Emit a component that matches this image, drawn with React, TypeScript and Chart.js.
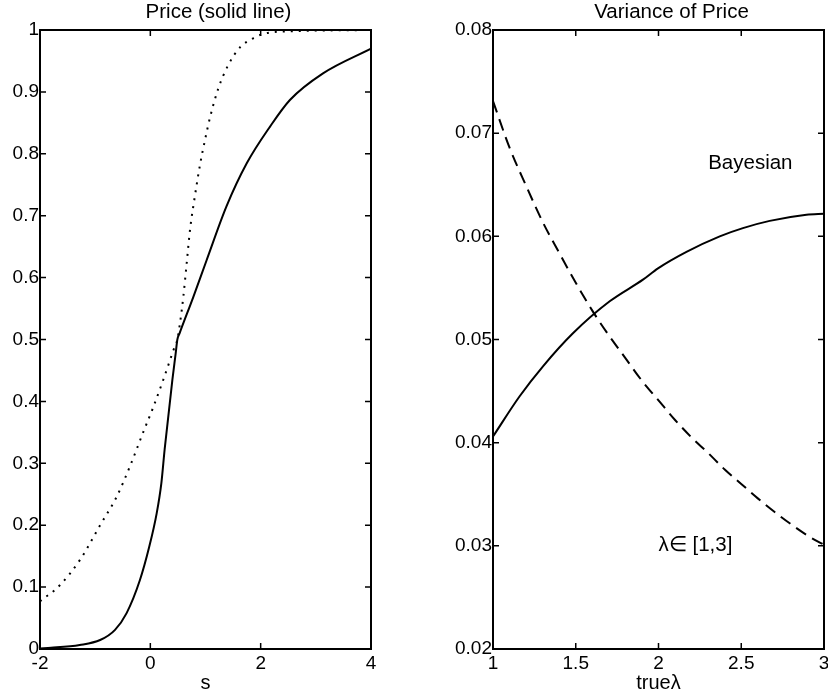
import React, { useEffect, useRef } from "react";
import { Chart, registerables } from "chart.js";

Chart.register(...registerables);

const FONT = '"Liberation Sans", Arial, Helvetica, sans-serif';
Chart.defaults.font.family = FONT;
Chart.defaults.color = "#000";

// ---------- Left panel: Price ----------
const priceTitle = "Price (solid line)";
const priceXLabel = "s";
const priceXTicks = [-2, 0, 2, 4];
const priceXTickLabels = ["-2", "0", "2", "4"];
const priceYTicks = [0, 0.1, 0.2, 0.3, 0.4, 0.5, 0.6, 0.7, 0.8, 0.9, 1];
const priceYTickLabels = ["0", "0.1", "0.2", "0.3", "0.4", "0.5", "0.6", "0.7", "0.8", "0.9", "1"];

const priceSolidS = [-2, -1.8, -1.28, -0.91, -0.64, -0.43, -0.19, -0.02, 0.115, 0.2, 0.26, 0.4, 0.46, 0.49, 0.53, 0.78, 1.02, 1.38, 1.75, 2.17, 2.53, 3.13, 4];
const priceSolidV = [0.001, 0.002, 0.0065, 0.0145, 0.031, 0.058, 0.111, 0.165, 0.219, 0.268, 0.323, 0.435, 0.478, 0.5, 0.51, 0.569, 0.628, 0.715, 0.785, 0.844, 0.887, 0.93, 0.97];

const priceDottedS = [-2, -1.64, -1.275, -0.91, -0.61, -0.37, -0.13, 0.05, 0.235, 0.42, 0.49, 0.537, 0.598, 0.659, 0.719, 0.81, 0.9, 0.99, 1.08, 1.23, 1.41, 1.625, 1.87, 2.02, 2.17, 2.6, 3, 4];
const priceDottedV = [0.077, 0.103, 0.144, 0.2, 0.246, 0.295, 0.35, 0.39, 0.435, 0.483, 0.5, 0.526, 0.569, 0.623, 0.677, 0.733, 0.782, 0.822, 0.858, 0.905, 0.943, 0.972, 0.987, 0.993, 0.996, 0.998, 0.999, 1.0];

// ---------- Right panel: Variance of Price ----------
const varTitle = "Variance of Price";
const varXLabel = "trueλ";
const varXTicks = [1, 1.5, 2, 2.5, 3];
const varXTickLabels = ["1", "1.5", "2", "2.5", "3"];
const varYTicks = [0.02, 0.03, 0.04, 0.05, 0.06, 0.07, 0.08];
const varYTickLabels = ["0.02", "0.03", "0.04", "0.05", "0.06", "0.07", "0.08"];

const bayesLambda = [1, 1.161, 1.302, 1.483, 1.705, 1.906, 1.997, 2.169, 2.37, 2.51, 2.672, 2.894, 3.0];
const bayesVar = [0.0406, 0.0445, 0.0474, 0.0506, 0.0537, 0.0558, 0.0569, 0.0585, 0.06, 0.0608, 0.0615, 0.0621, 0.0622];

const dashedLambda = [1, 1.1, 1.2, 1.3, 1.4, 1.5, 1.6, 1.7, 1.8, 1.9, 2.0, 2.1, 2.2, 2.3, 2.4, 2.5, 2.6, 2.7, 2.8, 2.9, 3.0];
const dashedVar = [0.0731, 0.0686, 0.0649, 0.0614, 0.0584, 0.0555, 0.0528, 0.0504, 0.0482, 0.046, 0.0441, 0.0422, 0.0405, 0.039, 0.0374, 0.036, 0.0346, 0.0333, 0.0321, 0.031, 0.0301];

const varNotes = [
  { x: 2.3, y: 0.0671, text: "Bayesian" },
  { x: 2.0, y: 0.03, text: "λ∈ [1,3]" },
];

const TICK_LEN = 6;
const TITLE_SHIFT = 13;

type Note = { x: number; y: number; text: string };

function zip(xs: number[], ys: number[]) {
  return xs.map((x, i) => ({ x, y: ys[i] }));
}

function makeDecor(title: string, notes: Note[]) {
  return {
    id: "decor",
    afterDraw(chart: any) {
      const { ctx, chartArea } = chart;
      const { left, right, top, bottom } = chartArea;
      const xs = chart.scales.x;
      const ys = chart.scales.y;
      ctx.save();
      ctx.strokeStyle = "#000";
      ctx.lineWidth = 1.5;
      ctx.beginPath();
      for (const t of xs.ticks) {
        const px = xs.getPixelForValue(t.value);
        ctx.moveTo(px, bottom);
        ctx.lineTo(px, bottom - TICK_LEN);
        ctx.moveTo(px, top);
        ctx.lineTo(px, top + TICK_LEN);
      }
      for (const t of ys.ticks) {
        const py = ys.getPixelForValue(t.value);
        ctx.moveTo(left, py);
        ctx.lineTo(left + TICK_LEN, py);
        ctx.moveTo(right, py);
        ctx.lineTo(right - TICK_LEN, py);
      }
      ctx.stroke();
      ctx.lineWidth = 2;
      ctx.strokeRect(left, top, right - left, bottom - top);

      ctx.fillStyle = "#000";
      ctx.font = `20.5px ${FONT}`;
      ctx.textAlign = "center";
      ctx.textBaseline = "alphabetic";
      ctx.fillText(title, (left + right) / 2 + TITLE_SHIFT, 17.5);

      ctx.textAlign = "left";
      ctx.textBaseline = "middle";
      for (const n of notes) {
        ctx.fillText(n.text, xs.getPixelForValue(n.x), ys.getPixelForValue(n.y));
      }
      ctx.restore();
    },
  };
}

function buildConfig(p: {
  datasets: any[];
  xMin: number; xMax: number; xTicks: number[]; xLabels: string[]; xTitle: string;
  yMin: number; yMax: number; yTicks: number[]; yLabels: string[];
  yAxisWidth: number; padRight: number; title: string; notes: Note[];
}): any {
  return {
    type: "line",
    data: { datasets: p.datasets },
    options: {
      animation: false,
      responsive: false,
      events: [],
      layout: { padding: { left: 0, right: p.padRight, top: 30, bottom: 0 } },
      plugins: {
        legend: { display: false },
        tooltip: { enabled: false },
        title: { display: false },
      },
      scales: {
        x: {
          type: "linear",
          min: p.xMin,
          max: p.xMax,
          afterBuildTicks: (s: any) => {
            s.ticks = p.xTicks.map((v) => ({ value: v }));
          },
          afterFit: (s: any) => {
            s.height = 51;
          },
          ticks: {
            autoSkip: false,
            maxRotation: 0,
            minRotation: 0,
            padding: 3,
            color: "#000",
            font: { family: FONT, size: 19 },
            callback: (_v: any, i: number) => p.xLabels[i],
          },
          grid: { display: false, drawTicks: false },
          border: { display: false },
          title: {
            display: true,
            text: p.xTitle,
            color: "#000",
            font: { family: FONT, size: 20 },
            padding: { top: 0, bottom: 5 },
          },
        },
        y: {
          type: "linear",
          min: p.yMin,
          max: p.yMax,
          afterBuildTicks: (s: any) => {
            s.ticks = p.yTicks.map((v) => ({ value: v }));
          },
          afterFit: (s: any) => {
            s.width = p.yAxisWidth;
          },
          ticks: {
            autoSkip: false,
            padding: 1,
            color: "#000",
            font: { family: FONT, size: 19 },
            callback: (_v: any, i: number) => p.yLabels[i],
          },
          grid: { display: false, drawTicks: false },
          border: { display: false },
        },
      },
    },
    plugins: [makeDecor(p.title, p.notes)],
  };
}

const lineStyle = {
  borderColor: "#000",
  borderWidth: 2,
  pointRadius: 0,
  fill: false,
  cubicInterpolationMode: "monotone",
};

export default function App() {
  const leftRef = useRef<HTMLCanvasElement>(null);
  const rightRef = useRef<HTMLCanvasElement>(null);

  useEffect(() => {
    const left = new Chart(
      leftRef.current as HTMLCanvasElement,
      buildConfig({
        datasets: [
          { ...lineStyle, label: "price", data: zip(priceSolidS, priceSolidV) },
          { ...lineStyle, label: "dotted", data: zip(priceDottedS, priceDottedV), borderDash: [2, 6] },
        ],
        xMin: -2, xMax: 4, xTicks: priceXTicks, xLabels: priceXTickLabels, xTitle: priceXLabel,
        yMin: 0, yMax: 1, yTicks: priceYTicks, yLabels: priceYTickLabels,
        yAxisWidth: 40, padRight: 43, title: priceTitle, notes: [],
      })
    );
    const right = new Chart(
      rightRef.current as HTMLCanvasElement,
      buildConfig({
        datasets: [
          { ...lineStyle, label: "Bayesian", data: zip(bayesLambda, bayesVar) },
          { ...lineStyle, label: "dashed", data: zip(dashedLambda, dashedVar), borderDash: [12, 7] },
        ],
        xMin: 1, xMax: 3, xTicks: varXTicks, xLabels: varXTickLabels, xTitle: varXLabel,
        yMin: 0.02, yMax: 0.08, yTicks: varYTicks, yLabels: varYTickLabels,
        yAxisWidth: 73, padRight: 16, title: varTitle, notes: varNotes,
      })
    );
    return () => {
      left.destroy();
      right.destroy();
    };
  }, []);

  return (
    <div
      style={{
        position: "absolute",
        left: 0,
        top: 0,
        width: 828,
        height: 700,
        overflow: "hidden",
        background: "#fff",
      }}
    >
      <canvas
        ref={leftRef}
        width={414}
        height={700}
        style={{ position: "absolute", left: 0, top: 0, width: 414, height: 700 }}
      />
      <canvas
        ref={rightRef}
        width={420}
        height={700}
        style={{ position: "absolute", left: 420, top: 0, width: 420, height: 700 }}
      />
    </div>
  );
}
